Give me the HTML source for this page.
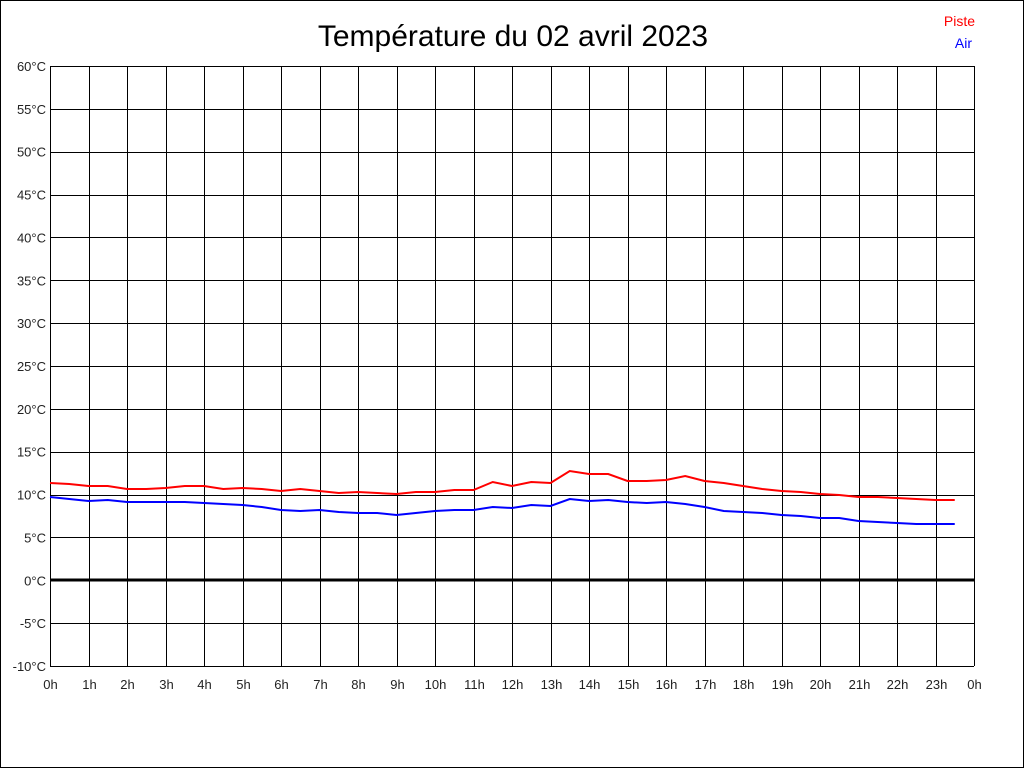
<!DOCTYPE html>
<html><head><meta charset="utf-8"><style>
html,body{margin:0;padding:0;background:#fff}
svg{display:block}
text{font-family:"Liberation Sans",sans-serif}
</style></head><body>
<svg id="s" width="1024" height="768" xmlns="http://www.w3.org/2000/svg">
<rect x="0.5" y="0.5" width="1023" height="767" fill="#fff" stroke="#000"/>
<text x="513" y="46" font-size="30" text-anchor="middle">Température du 02 avril 2023</text>
<text x="975" y="26" font-size="14" fill="#f00" text-anchor="end">Piste</text>
<text x="972" y="48" font-size="14" fill="#00f" text-anchor="end">Air</text>
<g id="g"></g>
</svg>
<script>
var g=document.getElementById('g'),h='';
var x0=50,x1=974,y0=66,y1=666;
for(var i=0;i<=14;i++){var y=y0+i*600/14;var v=60-5*i;
h+='<line x1="50" x2="974" y1="'+(Math.round(y)+0.5)+'" y2="'+(Math.round(y)+0.5)+'" stroke="#000" stroke-width="1"/>';
h+='<text x="46" y="'+(y+5)+'" font-size="13" text-anchor="end" fill="#222">'+v+'°C</text>';}
for(var i=0;i<=24;i++){var x=Math.round(x0+i*38.5)+0.5;
h+='<line y1="66" y2="666" x1="'+x+'" x2="'+x+'" stroke="#000" stroke-width="1"/>';
h+='<text x="'+x+'" y="689" font-size="13" text-anchor="middle" fill="#222">'+(i%24)+'h</text>';}
h+='<line x1="50" x2="974" y1="580" y2="580" stroke="#000" stroke-width="3"/>';
var r=[483,484,486,486,489,489,488,486,486,489,488,489,491,489,491,493,492,493,494,492,492,490,490,482,486,482,483,471,474,474,481,481,480,476,481,483,486,489,491,492,494,495,497,497,498,499,500,500];
var b=[497,499,501,500,502,502,502,502,503,504,505,507,510,511,510,512,513,513,515,513,511,510,510,507,508,505,506,499,501,500,502,503,502,504,507,511,512,513,515,516,518,518,521,522,523,524,524,524];
function pl(a,c){var p=a.map(function(y,i){return (50+i*19.25)+','+y}).join(' ');return '<polyline points="'+p+'" fill="none" stroke="'+c+'" stroke-width="2"/>';}
h+=pl(r,'#f00')+pl(b,'#00f');
g.innerHTML=h;
</script>
</body></html>
